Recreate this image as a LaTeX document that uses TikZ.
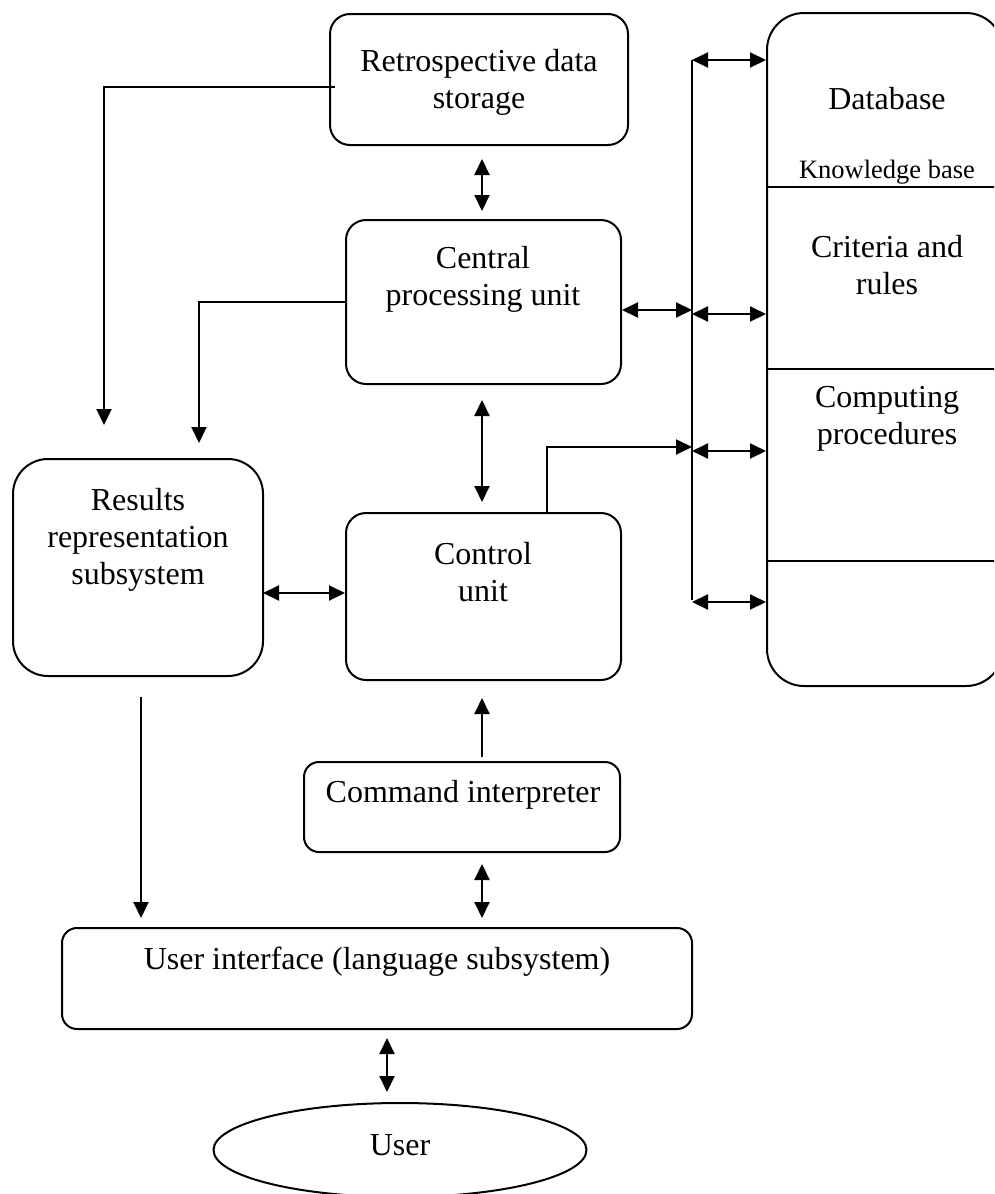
\documentclass[tikz,border=0pt]{standalone}
\usepackage{fontspec}
\setmainfont{Liberation Serif}
\usetikzlibrary{arrows.meta,shapes.geometric}
\begin{document}
\begin{tikzpicture}[x=1pt,y=-1pt,
  line width=2pt,
  box/.style={draw, rectangle, inner sep=0pt, line width=2pt},
  txt/.style={align=center, inner sep=0pt, font=\fontsize{32}{37}\selectfont},
  small/.style={align=center, inner sep=0pt, font=\fontsize{26.5}{30}\selectfont},
  arr/.style={-{Triangle[length=16pt,width=15pt]}},
  dbl/.style={{Triangle[length=16pt,width=15pt]}-{Triangle[length=16pt,width=15pt]}}
]
\path[use as bounding box] (0,0) rectangle (994,1194);
\clip (0,0) rectangle (994,1194);

% boxes
\node[box, rounded corners=20pt, minimum width=298pt, minimum height=131pt] (retro) at (479,79.5) {};
\node[box, rounded corners=20pt, minimum width=275pt, minimum height=164pt] (cpu) at (483.5,302) {};
\node[box, rounded corners=20pt, minimum width=275pt, minimum height=167pt] (ctrl) at (483.5,596.5) {};
\node[box, rounded corners=35pt, minimum width=250pt, minimum height=217pt] (res) at (138,567.5) {};
\node[box, rounded corners=15pt, minimum width=316pt, minimum height=90pt] (cmd) at (462,807) {};
\node[box, rounded corners=15pt, minimum width=630pt, minimum height=101pt] (ui) at (377,978.5) {};
\node[draw, ellipse, line width=2pt, inner sep=0pt, minimum width=373pt, minimum height=94pt] (user) at (400,1150) {};
\node[box, rounded corners=37pt, minimum width=236pt, minimum height=673pt] (kb) at (885,349.5) {};

% texts
\node[txt] (retroT) at (479,82) {Retrospective data\\storage};
\node[txt] (cpuT) at (483,279) {Central\\processing unit};
\node[txt] (ctrlT) at (483,572) {Control\\unit};
\node[txt] (resT) at (138,540) {Results\\representation\\subsystem};
\node[txt] (cmdT) at (463,795) {Command interpreter};
\node[txt] (uiT) at (377,962) {User interface (language subsystem)};
\node[txt] (userT) at (400,1145) {User};
\node[txt] (dbT) at (887,99) {Database};
\node[small] (kbT) at (887,172) {Knowledge base};
\node[txt] (crT) at (887,265) {Criteria and\\rules};
\node[txt] (cpT) at (887,419) {Computing\\procedures};

% dividers in knowledge base
\coordinate (d1) at (767,187);
\coordinate (d2) at (767,369);
\coordinate (d3) at (767,561);
\draw (d1) -- (d1 -| kb.east);
\draw (d2) -- (d2 -| kb.east);
\draw (d3) -- (d3 -| kb.east);

% bus
\coordinate (busT) at (692,60);
\coordinate (busB) at (692,600);
\draw (busT) -- (busB);
\coordinate (b1) at (692,60);
\coordinate (b2) at (692,314);
\coordinate (b3) at (692,451);
\coordinate (b4) at (692,602);
\draw[dbl] (b1) -- (b1 -| kb.west);
\draw[dbl] (b2) -- (b2 -| kb.west);
\draw[dbl] (b3) -- (b3 -| kb.west);
\draw[dbl] (b4) -- (b4 -| kb.west);

% CPU to bus
\coordinate (c1) at (692,310);
\draw[dbl] (cpu.east |- c1) -- (c1);
% control to bus
\coordinate (ctlout) at (547,513);
\coordinate (c2) at (692,447);
\draw[arr] (ctlout) |- (c2);

% vertical arrows in the centre column
\coordinate (ax) at (482,0);
\draw[dbl, shorten <=13pt, shorten >=8pt] (retro.south -| ax) -- (cpu.north -| ax);
\draw[dbl, shorten <=15pt, shorten >=10pt] (cpu.south -| ax) -- (ctrl.north -| ax);
\draw[arr, shorten <=4pt, shorten >=17pt] (cmd.north -| ax) -- (ctrl.south -| ax);
\draw[dbl, shorten <=11pt, shorten >=9pt] (cmd.south -| ax) -- (ui.north -| ax);

% UI to user
\coordinate (ux) at (387,0);
\draw[dbl, shorten <=8pt, shorten >=10pt] (ui.south -| ux) -- (user.north -| ux);

% results <-> control
\coordinate (rc) at (263,593);
\draw[dbl] (rc) -- (rc -| ctrl.west);

% retrospective -> results
\coordinate (r1) at (335,87);
\coordinate (res1) at (104,425);
\draw[arr] (r1) -| (res1);
% cpu -> results
\coordinate (res2) at (199,443);
\draw[arr] (cpu.west) -| (res2);
% results -> UI
\coordinate (r3) at (141,697);
\coordinate (r4) at (141,918);
\draw[arr] (r3) -- (r4);
\end{tikzpicture}
\end{document}
